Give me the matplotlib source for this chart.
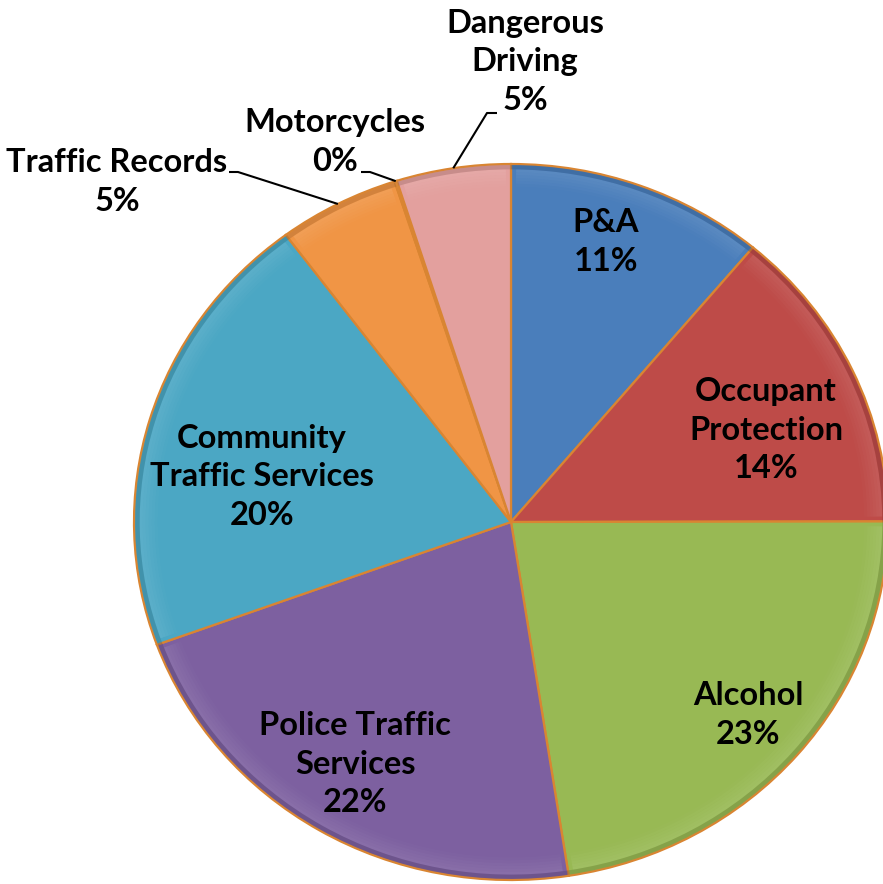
import numpy as np
import matplotlib
matplotlib.use("Agg")
import matplotlib.pyplot as plt
from matplotlib.patches import Wedge
import matplotlib.colors as mcolors

# ---------------- data ----------------
categories = ["P&A", "Occupant\nProtection", "Alcohol", "Police Traffic\nServices",
              "Community\nTraffic Services", "Traffic Records", "Motorcycles",
              "Dangerous\nDriving"]
values = [11.1, 13.9, 22.6, 21.9, 20.4, 5.2, 0.1, 4.9]
colors = ["#4A7EBB", "#BE4B48", "#98B954", "#7D60A0", "#4BA7C4", "#F09545", "#D9A3A2", "#E3A09E"]

# ---------------- layout ----------------
W, H = 883, 884
CX, CY, RX, RY = 511, 522, 377, 358   # pie centre / radii in pixels


def pix(px, py):
    """pixel (from top-left) -> axes data coordinates"""
    return ((px - CX) / RX, (CY - py) / RY)


fig = plt.figure(figsize=(W / 100, H / 100), dpi=100)
ax = fig.add_axes([(CX - RX) / W, (H - CY - RY) / H, 2 * RX / W, 2 * RY / H])

edge = "#D98532"
wedges, _ = ax.pie(values, colors=colors, startangle=90, counterclock=False,
                   radius=1.0, wedgeprops=dict(edgecolor=edge, linewidth=1.6))
ax.set_aspect("auto")
ax.set_xlim(-1, 1)
ax.set_ylim(-1, 1)
ax.axis("off")

# soft bevel imitation: gentle light band inside the rim, darker rim
for w, c in zip(wedges, colors):
    t1, t2 = w.theta1, w.theta2
    if t2 - t1 < 1:
        continue
    base = mcolors.to_rgb(c)
    light = tuple(min(1, v + (1 - v) * 0.4) for v in base)
    dark = tuple(v * 0.65 for v in base)
    n = 6
    for k in range(n):
        r_out = 0.985 - k * 0.008
        a = 0.22 * (1 - k / n)
        ax.add_patch(Wedge((0, 0), r_out, t1 + 0.8, t2 - 0.8, width=0.008,
                           facecolor=light, edgecolor="none", alpha=a))
    ax.add_patch(Wedge((0, 0), 0.997, t1, t2, width=0.012,
                       facecolor=dark, edgecolor="none", alpha=0.35))

total = sum(values)
pct = [f"{round(v / total * 100):.0f}%" for v in values]

font = dict(family=["Lato", "DejaVu Sans"], fontweight="bold", fontsize=23.5, color="black")
LS = 1.4

# label centres (pixels) for labels inside slices
inside_pos = {0: (606, 242), 1: (766, 430), 2: (748, 715), 3: (355, 764), 4: (262, 477)}
for i, (px, py) in inside_pos.items():
    x, y = pix(px, py)
    ax.text(x, y, categories[i] + "\n" + pct[i], ha="center", va="center",
            linespacing=LS, **font)

# outside labels with leader lines: text centre, line start (at text), elbow
outside = {
    5: dict(text=(117, 182), start=(229, 172), elbow=(238, 172)),
    6: dict(text=(335, 142), start=(361, 172), elbow=(370, 172)),
    7: dict(text=(525, 62), start=(497, 113), elbow=(487, 113)),
}
for i, d in outside.items():
    x, y = pix(*d["text"])
    ax.text(x, y, categories[i] + "\n" + pct[i], ha="center", va="center",
            linespacing=LS, clip_on=False, **font)
    w = wedges[i]
    mid = np.deg2rad((w.theta1 + w.theta2) / 2)
    rx, ry = np.cos(mid), np.sin(mid)
    sx, sy = pix(*d["start"])
    ex, ey = pix(*d["elbow"])
    ax.plot([sx, ex, rx], [sy, ey, ry], color="black", lw=1.5, clip_on=False,
            solid_capstyle="butt")

fig.savefig("out.png", dpi=100)
